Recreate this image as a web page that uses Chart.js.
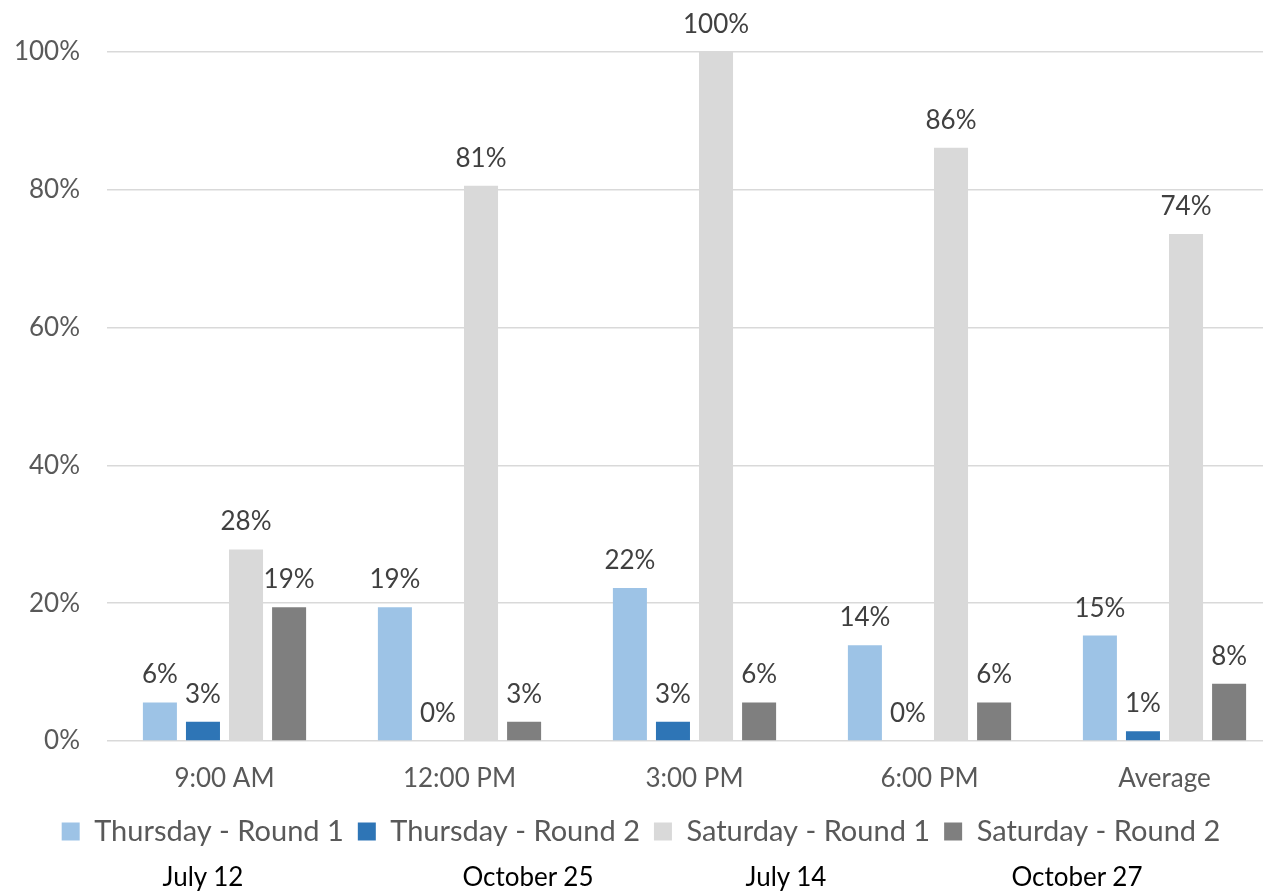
<!DOCTYPE html>
<html lang="en">
<head>
    <meta charset="UTF-8">
    <title>Occupancy by time of day</title>
    <script src="https://cdn.jsdelivr.net/npm/chart.js"></script>
    <style>
        html, body {
            margin: 0;
            padding: 0;
            background: #ffffff;
            overflow: hidden;
        }
        .wrap {
            position: relative;
            width: 1263px;
            height: 893px;
            overflow: hidden;
        }
        .chart-box {
            position: absolute;
            left: 0;
            top: 0;
            width: 1282px;
            height: 893px;
        }
        .date {
            position: absolute;
            top: 860px;
            font-family: Lato, sans-serif;
            font-size: 26px;
            color: #000000;
            transform: translateX(-50%);
            white-space: nowrap;
        }
    </style>
</head>
<body>
    <div class="wrap">
        <div class="chart-box"><canvas id="occChart"></canvas></div>
    </div>

    <script>
        // categories and series
        const timeSlots = ['9:00 AM', '12:00 PM', '3:00 PM', '6:00 PM', 'Average'];
        const thursdayRound1 = [5.6, 19.4, 22.2, 13.9, 15.3];
        const thursdayRound2 = [2.8, 0, 2.8, 0, 1.4];
        const saturdayRound1 = [27.8, 80.6, 100, 86.1, 73.6];
        const saturdayRound2 = [19.4, 2.8, 5.6, 5.6, 8.3];
        const seriesNames = ['Thursday - Round 1', 'Thursday - Round 2', 'Saturday - Round 1', 'Saturday - Round 2'];
        const seriesColors = ['#9dc3e6', '#2e75b6', '#d9d9d9', '#7f7f7f'];
        const yTicks = [0, 20, 40, 60, 80, 100];
        const dateLabels = ['July 12', 'October 25', 'July 14', 'October 27'];

        // where the date notes sit under the legend (px from left)
        const dateCenters = [203, 528, 786, 1077];
        const wrap = document.querySelector('.wrap');
        dateLabels.forEach(function(txt, i) {
            const d = document.createElement('div');
            d.className = 'date';
            d.style.left = dateCenters[i] + 'px';
            d.textContent = txt;
            wrap.appendChild(d);
        });

        // value labels above each bar
        const barLabels = {
            id: 'barLabels',
            afterDatasetsDraw(chart) {
                const ctx = chart.ctx;
                ctx.save();
                ctx.font = '26px Lato';
                ctx.fillStyle = '#404040';
                ctx.textAlign = 'center';
                ctx.textBaseline = 'alphabetic';
                chart.data.datasets.forEach(function(ds, i) {
                    chart.getDatasetMeta(i).data.forEach(function(bar, j) {
                        ctx.fillText(Math.round(ds.data[j]) + '%', bar.x, bar.y - 19);
                    });
                });
                ctx.restore();
            }
        };

        const allSeries = [thursdayRound1, thursdayRound2, saturdayRound1, saturdayRound2];

        const ctx = document.getElementById('occChart').getContext('2d');
        const occChart = new Chart(ctx, {
            type: 'bar',
            data: {
                labels: timeSlots,
                datasets: allSeries.map(function(vals, i) {
                    return {
                        label: seriesNames[i],
                        data: vals,
                        backgroundColor: seriesColors[i],
                        borderWidth: 0,
                        categoryPercentage: 0.733,
                        barPercentage: 0.79
                    };
                })
            },
            options: {
                responsive: true,
                maintainAspectRatio: false,
                animation: false,
                layout: {
                    padding: { top: 52, left: 0, right: 0, bottom: 37 }
                },
                plugins: {
                    legend: {
                        position: 'bottom',
                        labels: {
                            boxWidth: 18,
                            boxHeight: 18,
                            padding: 14,
                            color: '#595959',
                            font: { family: 'Lato', size: 29 }
                        }
                    },
                    tooltip: { enabled: false }
                },
                scales: {
                    y: {
                        min: 0,
                        max: 100,
                        afterBuildTicks: function(axis) {
                            axis.ticks = yTicks.map(function(v) { return { value: v }; });
                        },
                        afterFit: function(axis) { axis.width = 107; },
                        ticks: {
                            padding: 27,
                            color: '#595959',
                            font: { family: 'Lato', size: 26 },
                            callback: function(value) { return value + '%'; }
                        },
                        grid: { color: '#d9d9d9', lineWidth: 1.5, drawTicks: false },
                        border: { display: false }
                    },
                    x: {
                        afterFit: function(axis) { axis.height = 62; },
                        ticks: {
                            padding: 22,
                            color: '#595959',
                            font: { family: 'Lato', size: 26 }
                        },
                        grid: { display: false, drawTicks: false },
                        border: { display: false }
                    }
                }
            },
            plugins: [barLabels]
        });
    </script>
</body>
</html>
